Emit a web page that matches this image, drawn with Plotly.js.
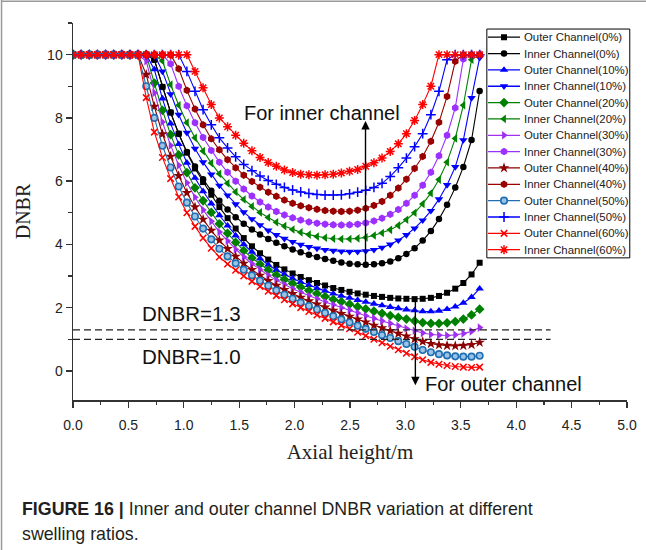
<!DOCTYPE html>
<html><head><meta charset="utf-8">
<script src="https://cdn.plot.ly/plotly-3.0.1.min.js"></script>
<style>html,body{margin:0;padding:0;background:#fff;}#chart{width:646px;height:550px;}</style>
</head><body><div id="chart"></div>
<script>
// Axial positions (m)
const axialHeight = [0,0.073,0.147,0.220,0.294,0.367,0.440,0.514,0.587,0.661,0.734,0.807,0.881,0.954,1.028,1.101,1.174,1.248,1.321,1.395,1.468,1.541,1.615,1.688,1.762,1.835,1.908,1.982,2.055,2.129,2.202,2.275,2.349,2.422,2.496,2.569,2.642,2.716,2.789,2.863,2.936,3.009,3.083,3.156,3.230,3.303,3.376,3.450,3.523,3.597,3.670];

const outer0 = [10,10,10,10,10,10,10,10,10,10,9.84,8.98,8.17,7.5,6.9,6.4,5.97,5.57,5.18,4.83,4.5,4.2,3.94,3.72,3.52,3.35,3.21,3.08,2.97,2.87,2.78,2.7,2.62,2.56,2.5,2.45,2.41,2.37,2.34,2.31,2.29,2.28,2.27,2.28,2.31,2.37,2.47,2.6,2.78,3.05,3.42];
const inner0 = [10,10,10,10,10,10,10,10,10,10,9.84,8.98,8.17,7.5,6.92,6.46,6.06,5.7,5.38,5.1,4.86,4.65,4.47,4.31,4.17,4.05,3.94,3.84,3.75,3.67,3.6,3.54,3.48,3.43,3.39,3.37,3.36,3.37,3.4,3.46,3.56,3.7,3.88,4.12,4.42,4.8,5.25,5.8,6.45,7.3,8.85];
const outer10 = [10,10,10,10,10,10,10,10,10,10,9.53,8.61,7.82,7.17,6.58,6.1,5.68,5.29,4.92,4.59,4.28,4.0,3.76,3.55,3.35,3.19,3.05,2.92,2.81,2.71,2.61,2.53,2.44,2.37,2.31,2.24,2.18,2.12,2.07,2.02,1.98,1.94,1.91,1.88,1.88,1.9,1.95,2.03,2.15,2.33,2.6];
const inner10 = [10,10,10,10,10,10,10,10,10,10,10,9.47,8.75,8.1,7.53,7.03,6.6,6.21,5.86,5.55,5.27,5.02,4.8,4.61,4.44,4.3,4.18,4.08,3.99,3.92,3.87,3.83,3.8,3.78,3.77,3.77,3.79,3.83,3.9,4.0,4.13,4.3,4.51,4.76,5.06,5.43,5.88,6.45,7.3,8.63,9.9];
const outer20 = [10,10,10,10,10,10,10,10,10,10,9.1,8.24,7.47,6.83,6.27,5.79,5.38,5.01,4.65,4.35,4.06,3.8,3.57,3.37,3.19,3.03,2.89,2.76,2.65,2.54,2.44,2.35,2.26,2.19,2.11,2.03,1.96,1.89,1.82,1.75,1.69,1.64,1.58,1.53,1.5,1.5,1.52,1.56,1.64,1.77,1.95];
const inner20 = [10,10,10,10,10,10,10,10,10,10,10,9.8,9.05,8.4,7.85,7.37,6.95,6.57,6.23,5.93,5.66,5.42,5.2,5.01,4.85,4.7,4.58,4.47,4.38,4.31,4.25,4.21,4.18,4.17,4.17,4.19,4.22,4.28,4.36,4.46,4.6,4.78,5.0,5.28,5.62,6.05,6.6,7.35,8.4,9.84,10];
const outer30 = [10,10,10,10,10,10,10,10,10,9.79,8.79,7.87,7.13,6.5,5.95,5.49,5.09,4.73,4.39,4.11,3.84,3.6,3.39,3.2,3.02,2.87,2.73,2.6,2.49,2.38,2.28,2.18,2.09,2.0,1.92,1.83,1.74,1.66,1.58,1.5,1.42,1.34,1.27,1.2,1.15,1.13,1.12,1.14,1.18,1.25,1.37];
const inner30 = [10,10,10,10,10,10,10,10,10,10,10,10,9.71,9.0,8.38,7.85,7.38,6.97,6.6,6.28,6.0,5.75,5.53,5.34,5.18,5.04,4.93,4.84,4.77,4.71,4.67,4.64,4.62,4.61,4.62,4.64,4.68,4.74,4.83,4.95,5.1,5.3,5.55,5.87,6.28,6.8,7.45,8.32,9.86,10,10];
const outer40 = [10,10,10,10,10,10,10,10,10,9.37,8.36,7.49,6.78,6.17,5.63,5.18,4.79,4.44,4.13,3.86,3.62,3.4,3.2,3.02,2.85,2.7,2.57,2.44,2.32,2.21,2.11,2.01,1.91,1.81,1.72,1.63,1.54,1.44,1.36,1.27,1.18,1.1,1.01,0.93,0.86,0.82,0.8,0.79,0.8,0.83,0.9];
const inner40 = [10,10,10,10,10,10,10,10,10,10,10,10,10,9.55,8.87,8.28,7.78,7.34,6.99,6.68,6.42,6.19,5.99,5.81,5.65,5.52,5.4,5.3,5.22,5.16,5.11,5.07,5.05,5.04,5.05,5.08,5.14,5.23,5.36,5.55,5.78,6.06,6.4,6.78,7.26,7.86,8.68,9.79,10,10,10];
const outer50 = [10,10,10,10,10,10,10,10,10,9.0,8.0,7.12,6.43,5.83,5.32,4.88,4.5,4.16,3.86,3.62,3.4,3.2,3.02,2.85,2.69,2.54,2.41,2.28,2.16,2.05,1.94,1.83,1.73,1.63,1.53,1.43,1.33,1.23,1.13,1.04,0.94,0.85,0.76,0.66,0.59,0.53,0.49,0.46,0.45,0.45,0.48];
const inner50 = [10,10,10,10,10,10,10,10,10,10,10,10,10,10,9.47,8.84,8.26,7.78,7.37,7.05,6.77,6.53,6.33,6.16,6.02,5.9,5.8,5.72,5.66,5.61,5.58,5.56,5.56,5.57,5.6,5.65,5.71,5.8,5.93,6.15,6.42,6.73,7.09,7.5,8.1,8.84,9.84,10,10,10,10];
const outer60 = [10,10,10,10,10,10,10,10,10,8.64,7.55,6.75,6.08,5.5,5.0,4.57,4.2,3.88,3.6,3.38,3.18,3.0,2.83,2.67,2.52,2.38,2.25,2.12,2.0,1.88,1.77,1.66,1.55,1.44,1.33,1.22,1.11,1.0,0.89,0.78,0.67,0.56,0.45,0.35,0.27,0.21,0.17,0.14,0.12,0.11,0.12];
const inner60 = [10,10,10,10,10,10,10,10,10,10,10,10,10,10,10,9.47,8.95,8.42,8.0,7.72,7.45,7.2,6.96,6.75,6.59,6.47,6.35,6.27,6.22,6.2,6.19,6.2,6.22,6.26,6.31,6.37,6.47,6.58,6.73,6.94,7.18,7.5,7.92,8.42,9.0,10,10,10,10,10,10];

const seriesNames = ['Outer Channel(0%)','Inner Channel(0%)','Outer Channel(10%)','Inner Channel(10%)','Outer Channel(20%)','Inner Channel(20%)','Outer Channel(30%)','Inner Channel(30%)','Outer Channel(40%)','Inner Channel(40%)','Outer Channel(50%)','Inner Channel(50%)','Outer Channel(60%)','Inner Channel(60%)'];
const seriesValues = [outer0,inner0,outer10,inner10,outer20,inner20,outer30,inner30,outer40,inner40,outer50,inner50,outer60,inner60];
const thresholds = [1.3, 1.0];
const thresholdLabels = ['DNBR=1.3','DNBR=1.0'];

const styles = [
  {c:'#000000', s:'square', z:6},
  {c:'#000000', s:'circle', z:6.5},
  {c:'#0000FF', s:'triangle-up', z:7.5},
  {c:'#0000FF', s:'triangle-down', z:7.5},
  {c:'#008000', s:'diamond', z:7.5},
  {c:'#008000', s:'triangle-left', z:7.5},
  {c:'#A030F0', s:'triangle-right', z:7.5},
  {c:'#9B30FF', s:'hexagon', z:7.5},
  {c:'#8B0000', s:'star', z:8},
  {c:'#990000', s:'hexagon', z:7.5},
  {c:'#1F6FB2', s:'circle', z:6.5, fill:'#9CC3E6'},
  {c:'#0000FF', s:'cross-thin-open', z:7},
  {c:'#FF0000', s:'x-thin-open', z:6.5},
  {c:'#FF0000', s:'asterisk-open', z:7.5}
];

const traces = [];
seriesValues.forEach((vals, i) => {
  const st = styles[i];
  const open = st.s.indexOf('open') >= 0;
  traces.push({
    type:'scatter', mode:'lines+markers', name: seriesNames[i],
    x: axialHeight, y: vals, showlegend:false,
    line:{color: st.c, width:1.1},
    marker:{symbol: st.s, size: st.z, color: st.fill || st.c,
            line:{color: st.c, width: open ? 1.5 : (st.fill ? 1.6 : 0)}}
  });
});

// custom legend (compact rows, matching the reference box)
seriesNames.forEach((nm, i) => {
  const st = styles[i];
  const open = st.s.indexOf('open') >= 0;
  traces.push({type:'scatter', mode:'lines', x:[0,1], y:[i+0.5,i+0.5], xaxis:'x2', yaxis:'y2',
    showlegend:false, hoverinfo:'skip', line:{color: st.c, width:1.3}});
  traces.push({type:'scatter', mode:'markers', x:[0.5], y:[i+0.5], xaxis:'x2', yaxis:'y2',
    showlegend:false, hoverinfo:'skip',
    marker:{symbol: st.s, size: st.z, color: st.fill || st.c,
            line:{color: st.c, width: open ? 1.5 : (st.fill ? 1.6 : 0)}}});
});

const annotations = [];
seriesNames.forEach((nm, i) => {
  annotations.push({xref:'paper', yref:'y2', x:0.81, y:i+0.5, xanchor:'left', yanchor:'middle',
    text:nm, showarrow:false, font:{family:'Liberation Sans, Arial', size:11.4, color:'#222'}});
});
annotations.push({xref:'x', yref:'y', x:2.25, y:8.15, text:'For inner channel', showarrow:false,
  font:{family:'Liberation Sans, Arial', size:20, color:'#111'}});
annotations.push({xref:'x', yref:'y', x:3.885, y:-0.41, text:'For outer channel', showarrow:false,
  font:{family:'Liberation Sans, Arial', size:20, color:'#111'}});
annotations.push({xref:'x', yref:'y', x:1.065, y:1.83, text:thresholdLabels[0], showarrow:false,
  font:{family:'Liberation Sans, Arial', size:20.5, color:'#111'}});
annotations.push({xref:'x', yref:'y', x:1.065, y:0.47, text:thresholdLabels[1], showarrow:false,
  font:{family:'Liberation Sans, Arial', size:20.5, color:'#111'}});
annotations.push({xref:'x', yref:'y', axref:'x', ayref:'y', x:2.64, y:7.9, ax:2.64, ay:3.36,
  showarrow:true, arrowhead:2, arrowsize:1.2, arrowwidth:1.4, arrowcolor:'#000', text:''});
annotations.push({xref:'x', yref:'y', axref:'x', ayref:'y', x:3.09, y:-0.45, ax:3.09, ay:2.27,
  showarrow:true, arrowhead:2, arrowsize:1.2, arrowwidth:1.4, arrowcolor:'#000', text:''});
annotations.push({xref:'paper', yref:'paper', x:-0.0957, y:-0.289, xanchor:'left', yanchor:'middle',
  text:'<b>FIGURE 16 |</b> Inner and outer channel DNBR variation at different', showarrow:false,
  font:{family:'Liberation Sans, Arial', size:17.8, color:'#231f20'}});
annotations.push({xref:'paper', yref:'paper', x:-0.0957, y:-0.355, xanchor:'left', yanchor:'middle',
  text:'swelling ratios.', showarrow:false,
  font:{family:'Liberation Sans, Arial', size:17.8, color:'#231f20'}});

const shapes = thresholds.map(v => ({type:'line', xref:'x', yref:'y', x0:0, x1:4.31, y0:v, y1:v,
  line:{color:'#222', width:1.2, dash:'7px,4px'}}));
shapes.push({type:'rect', xref:'paper', yref:'paper', x0:0.747, x1:1.005, y0:0.377, y1:0.984,
  line:{color:'#000', width:1}, fillcolor:'#fff', layer:'below'});
shapes.push({type:'line', xref:'paper', yref:'paper', x0:-0.129, x1:-0.129, y0:-0.4, y1:1.07,
  line:{color:'#999', width:1.5}});
shapes.push({type:'line', xref:'paper', yref:'paper', x0:-0.13, x1:1.04, y0:1.058, y1:1.058,
  line:{color:'#999', width:1.5}});

const tickFont = {family:'Liberation Sans, Arial', size:14, color:'#222'};
const layout = {
  width:646, height:550,
  margin:{l:73, r:19, t:23, b:150},
  paper_bgcolor:'#fff', plot_bgcolor:'rgba(0,0,0,0)',
  showlegend:false,
  xaxis:{range:[0,5], tick0:0, dtick:0.5, tickformat:'.1f', ticks:'outside', ticklen:6, tickwidth:1.3,
    tickcolor:'#333', showline:true, linecolor:'#333', linewidth:1.5, showgrid:false, zeroline:false,
    tickfont:tickFont, ticklabelstandoff:6,
    minor:{dtick:0.25, ticklen:3.5, tickwidth:1.2, tickcolor:'#333', ticks:'outside', showgrid:false},
    title:{text:'Axial height/m', font:{family:'Liberation Serif, Times New Roman', size:21, color:'#222'}, standoff:12}},
  yaxis:{range:[-0.92,11.0], tick0:0, dtick:2, ticks:'outside', ticklen:6, tickwidth:1.3,
    tickcolor:'#333', showline:true, linecolor:'#333', linewidth:1.5, showgrid:false, zeroline:false,
    tickfont:tickFont,
    minor:{dtick:1, ticklen:3.5, tickwidth:1.2, tickcolor:'#333', ticks:'outside', showgrid:false},
    title:{text:'DNBR', font:{family:'Liberation Serif, Times New Roman', size:20, color:'#222'}, standoff:11}},
  xaxis2:{domain:[0.749,0.807], range:[0,1], anchor:'y2', visible:false, fixedrange:true},
  yaxis2:{domain:[0.377,0.984], range:[14,0], anchor:'x2', visible:false, fixedrange:true},
  annotations:annotations,
  shapes:shapes
};
Plotly.newPlot('chart', traces, layout, {displayModeBar:false, staticPlot:true});
</script>
</body></html>
